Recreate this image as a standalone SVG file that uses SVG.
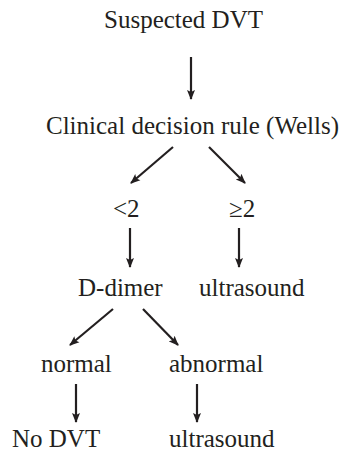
<svg xmlns="http://www.w3.org/2000/svg" width="352" height="451" viewBox="0 0 352 451">
<style>
.t{font-family:'Liberation Serif',serif;font-size:25px;fill:#231f20}
.c line{stroke:#231f20;stroke-width:2.2;marker-end:url(#ah)}
</style>
<defs>
<marker id="ah" markerUnits="userSpaceOnUse" markerWidth="10" markerHeight="10" viewBox="0 0 10 10" refX="9" refY="5" orient="auto">
<path d="M0,1 L10,5 L0,9 L2,5 Z" fill="#231f20"/>
</marker>
</defs>
<rect width="352" height="451" fill="#fff"/>
<g class="t" font-family="Liberation Serif, serif">
<g id="n1"><text x="104" y="28">Suspected DVT</text></g>
<g id="n2"><text x="46" y="134">Clinical decision rule (Wells)</text></g>
<g id="n3"><text x="113" y="217">&lt;2</text></g>
<g id="n4"><text x="229" y="217">≥2</text></g>
<g id="n5"><text x="78" y="296">D-dimer</text></g>
<g id="n6"><text x="199" y="296">ultrasound</text></g>
<g id="n7"><text x="41" y="372">normal</text></g>
<g id="n8"><text x="169" y="372">abnormal</text></g>
<g id="n9"><text x="12" y="447">No DVT</text></g>
<g id="n10"><text x="169" y="447">ultrasound</text></g>
</g>
<g id="connectors" class="c">
<line x1="191" y1="57" x2="191" y2="99"/>
<line x1="173" y1="147" x2="131" y2="183"/>
<line x1="209" y1="147" x2="245" y2="183"/>
<line x1="130" y1="228" x2="130" y2="267"/>
<line x1="239" y1="228" x2="239" y2="267"/>
<line x1="113" y1="309" x2="70" y2="345"/>
<line x1="143" y1="309" x2="178" y2="345"/>
<line x1="76" y1="384" x2="76" y2="422"/>
<line x1="197" y1="384" x2="197" y2="422"/>
</g>
</svg>
